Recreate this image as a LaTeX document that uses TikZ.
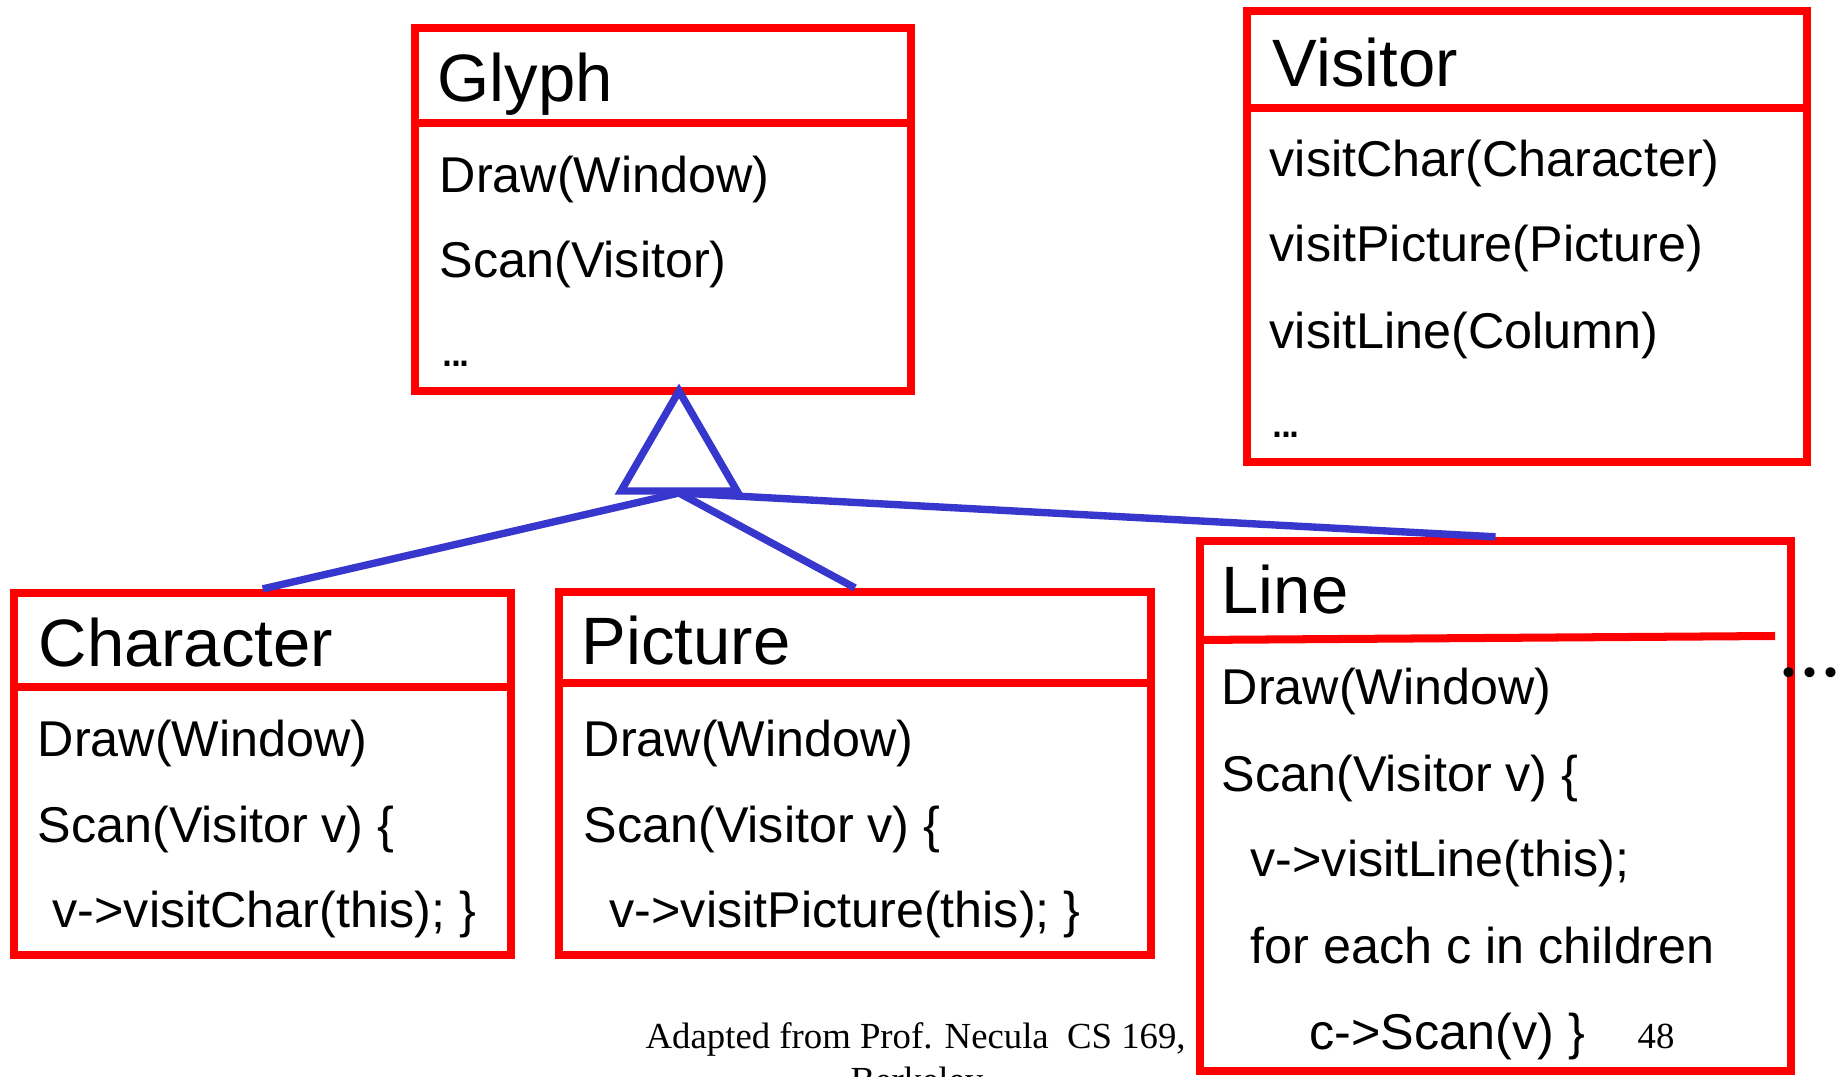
\documentclass[tikz,border=0pt]{standalone}
\usepackage{fontspec}
\setmainfont{Liberation Sans}
\newfontfamily\tnr{Liberation Serif}
\usetikzlibrary{calc}
\definecolor{umlred}{RGB}{255,0,0}
\definecolor{umlblue}{RGB}{55,55,205}
\newcommand\mydots{.\kern-.11em.\kern-.11em.}
\tikzset{
  cls/.style={draw=umlred, line width=2.28pt, inner sep=0pt, anchor=center},
  divider/.style={draw=umlred, line width=2.28pt},
  ttl/.style={anchor=base west, inner sep=0pt, font=\fontsize{19.06pt}{23pt}\selectfont},
  mth/.style={anchor=base west, inner sep=0pt, font=\fontsize{14.3pt}{17pt}\selectfont},
  foot/.style={anchor=base west, inner sep=0pt, font=\tnr\fontsize{10.45pt}{12.5pt}\selectfont},
  inh/.style={draw=umlblue, line width=2.1pt},
}
\begin{document}
\begin{tikzpicture}[x=0.01cm, y=-0.01cm]
\useasboundingbox (0,0) rectangle (1843,1077);
\fill[white] (0,0) rectangle (1843,1077);
\clip (0,0) rectangle (1843,1077);

% class boxes
\node[cls, minimum width=4.96cm, minimum height=3.63cm] (glyph) at (663,209.5) {};
\node[cls, minimum width=5.60cm, minimum height=4.51cm] (visitor) at (1527,236.5) {};
\node[cls, minimum width=4.965cm, minimum height=3.62cm] (character) at (262.75,774) {};
\node[cls, minimum width=5.92cm, minimum height=3.63cm] (picture) at (855,773.5) {};
\node[cls, minimum width=5.91cm, minimum height=5.30cm] (line) at (1495.5,806) {};

% dividers
\draw[divider] (411,123) -- (915,123);
\draw[divider] (1243,108) -- (1811,108);
\draw[divider] (10.5,687) -- (515,687);
\draw[divider] (555,683) -- (1155,683);
\draw[divider] (1196,640) -- (1775,636);

% Glyph
\node[ttl] (gt) at (437,102) {Glyph};
\node[mth] (g1) at (439,193) {Draw(Window)};
\node[mth] (g2) at (439,278) {Scan(Visitor)};
\node[mth] (g3) at (440,367) {\mydots};

% Visitor
\node[ttl] (vt) at (1272,87) {Visitor};
\node[mth] (v1) at (1269,177) {visitChar(Character)};
\node[mth] (v2) at (1269,262) {visitPicture(Picture)};
\node[mth] (v3) at (1269,349) {visitLine(Column)};
\node[mth] (v4) at (1270,438) {\mydots};

% Character
\node[ttl] (ct) at (38,667) {Character};
\node[mth] (c1) at (37,757) {Draw(Window)};
\node[mth] (c2) at (37,843) {Scan(Visitor v) \{};
\node[mth] (c3) at (52,928) {v->visitChar(this); \}};

% Picture
\node[ttl] (pt) at (581,665) {Picture};
\node[mth] (p1) at (583,757) {Draw(Window)};
\node[mth] (p2) at (583,843) {Scan(Visitor v) \{};
\node[mth] (p3) at (609,928) {v->visitPicture(this); \}};

% Line
\node[ttl] (lt) at (1221,614) {Line};
\node[mth] (l1) at (1221,705) {Draw(Window)};
\node[mth] (l2) at (1221,792) {Scan(Visitor v) \{};
\node[mth] (l3) at (1250,877) {v->visitLine(this);};
\node[mth] (l4) at (1250,964) {for each c in children};
\node[mth] (l5) at (1309,1049) {c->Scan(v) \}};

% more classes
\node[anchor=base west, inner sep=0pt, font=\tnr\fontsize{23.9pt}{28pt}\selectfont] (more) at (1778,677) {...};

% footer
\node[foot] (credit) at (645,1048) {Adapted from Prof. Necula\ \ CS 169,};
\node[foot, anchor=base] (credit2) at (917,1092) {Berkeley};
\node[foot] (pnum) at (1637,1048) {48};

% inheritance
\coordinate (apex) at (679,391);
\coordinate (bl) at (621,491);
\coordinate (br) at (737,491);
\coordinate (tb) at (679,493);
\draw[inh] (apex) -- (bl) -- (br) -- cycle;
\draw[inh] (tb) -- (character.north);
\draw[inh] (tb) -- (picture.north);
\draw[inh] (tb) -- (line.north);
\end{tikzpicture}
\end{document}
